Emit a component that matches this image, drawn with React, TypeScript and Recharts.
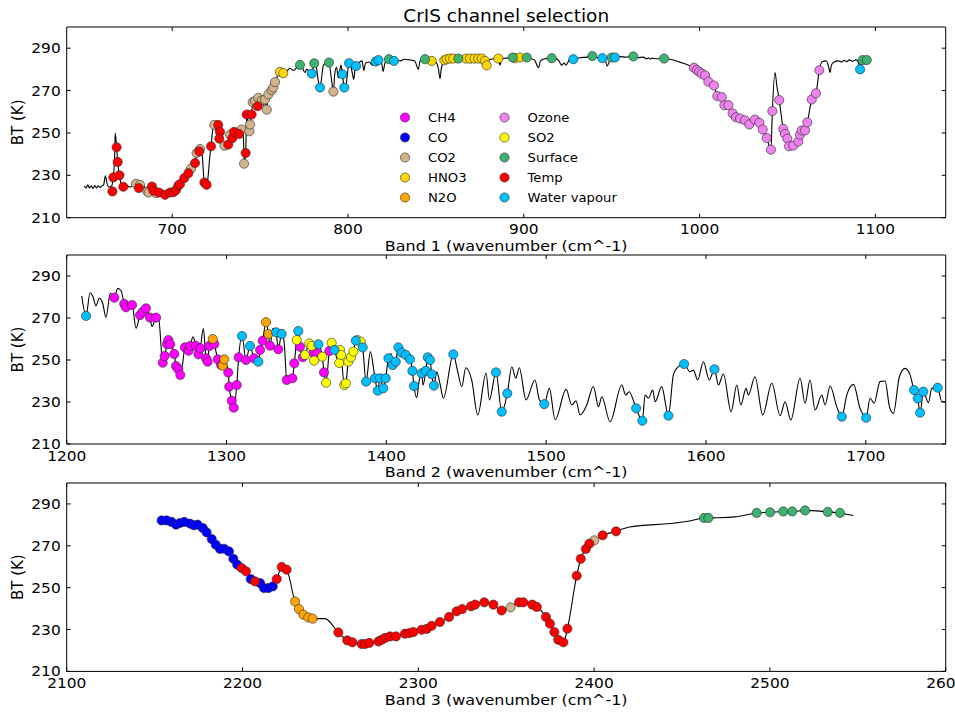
import React from 'react';
import { ComposedChart, Line, Scatter, XAxis, YAxis, ReferenceArea } from 'recharts';

type P = [number, number];

const FONT = "'DejaVu Sans', 'Liberation Sans', sans-serif";

const categories = ['CH4', 'CO', 'CO2', 'HNO3', 'N2O', 'Ozone', 'SO2', 'Surface', 'Temp', 'Water vapour'];
const categoryColors = ['#ff00ff', '#0000ff', '#d2b48c', '#ffd700', '#ffa500', '#ee82ee', '#ffff00', '#3cb371', '#ff0000', '#00bfff'];

const btTicks = [210, 230, 250, 270, 290];
const btDomain: P = [210, 300];
const band1Ticks = [700, 800, 900, 1000, 1100];
const band2Ticks = [1200, 1300, 1400, 1500, 1600, 1700];
const band3Ticks = [2100, 2200, 2300, 2400, 2500, 2600];

// ---------------- Band 1 ----------------
const band1Spectrum: P[] = [
  [650, 225], [651, 224], [652, 225.5], [653, 224], [654, 225], [655, 223.8], [656, 225.2], [657, 224], [658, 225], [659, 224.2],
  [660, 225], [661, 225.5], [662, 229.8], [663, 226], [664, 224.5], [665.5, 225], [666.5, 229], [667.3, 240], [667.6, 250], [668.4, 243.2],
  [669, 236.3], [670, 230], [671, 226], [672.2, 224.6], [674, 225], [676, 224.5], [678, 225.3], [680, 224.5], [681.7, 225.5], [683, 224],
  [684, 224.8], [685.9, 222.4], [687, 224], [688.5, 224.7], [690, 222.5], [692, 222], [694, 221.2], [696, 220.8], [698, 221.5], [700, 222],
  [702, 223], [703.5, 225], [705, 226.5], [707, 228.7], [709, 231], [711, 233.1], [713, 235.8], [714, 240.5], [716, 242.4], [717, 240],
  [718.3, 226.6], [719.6, 225.5], [720.5, 230], [721.3, 238], [722.1, 243.7], [723, 251], [724, 253.8], [725, 251], [726.2, 253.8], [727, 249],
  [728, 246], [729.7, 244], [731, 243.5], [732, 244.5], [733, 249.2], [734.2, 247.5], [735.2, 250.5], [736.7, 250], [738, 249.5], [739.5, 251.6],
  [740.5, 248], [741, 236], [741.8, 240.5], [742.4, 258.7], [743.9, 250.8], [744.3, 254], [745.2, 258.7], [745.8, 264.5], [747.1, 265], [748.6, 262.6],
  [749, 266.6], [750.9, 265.3], [752, 263], [752.8, 265.8], [753.8, 261], [754.7, 268.2], [756.6, 270.2], [757.5, 271.4], [758.5, 274], [760, 277],
  [761.3, 278.8], [763.2, 278.2], [765, 279], [767, 280.5], [769, 279.5], [771, 281], [772.7, 282.1], [774, 281], [775.5, 278.5], [776.5, 280],
  [778, 279], [779.4, 278], [780.8, 282.9], [782, 281], [783, 275], [784.1, 271.4], [785, 276], [786, 282], [788, 283], [789.2, 283.2],
  [790.5, 276], [791.7, 269.5], [792.5, 278], [793.5, 281], [794.5, 276], [796, 282], [796.8, 277.7], [797.9, 271.4], [798.5, 270], [799.3, 275],
  [800.6, 282.9], [801.5, 282], [802.5, 278], [803.3, 275.3], [804, 280], [804.6, 281.6], [806, 283], [808, 284], [809, 279.5], [810, 283],
  [812, 283.5], [814, 282], [815.8, 283.7], [817.3, 284.4], [819, 283.5], [820, 279], [821, 283], [823.3, 284.8], [826.2, 284], [828, 284.3],
  [830, 284], [832, 284.8], [835, 284.5], [838, 284], [840, 280], [841, 284], [843.8, 284.8], [847.6, 284], [850, 283.5], [851.5, 280],
  [852.4, 275.6], [853, 280], [854.8, 284.3], [856.1, 284.8], [858, 285.1], [859.9, 285.1], [862.8, 285.1], [865, 284.8], [867.1, 285.1], [869.4, 285.1],
  [870, 283], [871, 285], [871.9, 285.1], [874.1, 285.1], [876.1, 285.1], [877.9, 284], [878.9, 281.9], [880, 284.5], [883, 285], [885.5, 285.1],
  [886.5, 282], [887.5, 285], [890, 285.3], [893.7, 285.6], [895, 285.3], [897.9, 285.6], [901.7, 285.6], [904, 285], [906, 284.5], [908.4, 280.8],
  [909.5, 284], [912, 285], [915.9, 285.3], [918, 285.2], [920, 284], [921.6, 281.9], [923, 283], [924, 282], [926, 284.5], [928.2, 284.8],
  [932, 285.5], [936, 285.8], [939, 286.3], [942, 285.5], [944.7, 285.3], [946.5, 284], [947.5, 281.6], [949, 284.5], [950, 285.6], [951.9, 285.6],
  [955, 286], [958, 285.8], [962.3, 286.1], [965, 285.5], [968, 285.8], [970, 285], [971, 285.5], [972, 284.8], [973, 285.3], [975, 285],
  [979.8, 285.1], [983, 284.8], [986, 284.2], [989, 283.3], [992, 282.5], [994, 281.8], [996.8, 280.8], [998.4, 279.7], [999.8, 278.9], [1001.2, 278],
  [1003.1, 277.2], [1005, 274.2], [1008.2, 272.4], [1010.1, 267.4], [1012.6, 266.9], [1014.1, 263.1], [1016.4, 263.1], [1018.8, 259.2], [1020.7, 257.4], [1023, 256.8],
  [1025.8, 256], [1028.3, 254], [1031.5, 256.3], [1034, 254.8], [1035.9, 251.6], [1038.2, 247.6], [1040.6, 242.1], [1041.4, 260.3], [1042.9, 278.5], [1044, 272],
  [1045.3, 265.5], [1047.6, 251.9], [1048.6, 249.5], [1049.9, 247.3], [1050.9, 243.7], [1053.3, 244], [1056.2, 246], [1057.1, 249.2], [1058.1, 251.2], [1060, 251.2],
  [1061.3, 255], [1063.8, 265.8], [1066.2, 268.7], [1068.1, 279.6], [1069.5, 283.5], [1072, 284], [1073.5, 281], [1074.2, 278.5], [1075, 282], [1076.5, 283.5],
  [1079, 284], [1081, 283.5], [1082, 284.3], [1084, 283.6], [1085, 284.5], [1087, 283.8], [1089, 284.5], [1090.3, 283.5], [1091.3, 280], [1092, 284],
  [1092.8, 284.4], [1095.1, 284.4],
];
const band1CO2: P[] = [
  [679.4, 226], [681.7, 225.5], [685.9, 222.4], [686.6, 221.9], [690.8, 221.6], [710.7, 233.1], [713.9, 240.5], [715.8, 242.4], [724, 253.8], [729.7, 244],
  [732.9, 249.2], [736.7, 250], [739.5, 251.6], [740.9, 235.5], [743.9, 250.8], [744.3, 254], [745.8, 264.5], [747.1, 265], [749, 266.6], [750.9, 265.3],
  [752.8, 265.8], [753.8, 261], [754.7, 268.2], [756.6, 270.2], [757.5, 271.4], [758.5, 274], [791.7, 269.5],
];
const band1HNO3: P[] = [
  [761.3, 278.8], [763.2, 278.2], [847.6, 284], [854.8, 284.3], [856.1, 284.8], [858, 285.1], [859.9, 285.1], [867.1, 285.1], [869.4, 285.1], [871.9, 285.1],
  [874.1, 285.1], [876.1, 285.1], [877.9, 284], [878.9, 281.9], [885.5, 285.1], [895, 285.3], [897.9, 285.6],
];
const band1Ozone: P[] = [
  [996.8, 280.8], [998.4, 279.7], [999.8, 278.9], [1001.2, 278], [1003.1, 277.2], [1005, 274.2], [1008.2, 272.4], [1010.1, 267.4], [1012.6, 266.9], [1014.1, 263.1],
  [1016.4, 263.1], [1018.8, 259.2], [1020.7, 257.4], [1023, 256.8], [1025.8, 256], [1028.3, 254], [1031.5, 256.3], [1034, 254.8], [1035.9, 251.6], [1038.2, 247.6],
  [1040.6, 242.1], [1041.4, 260.3], [1045.3, 265.5], [1047.6, 251.9], [1048.6, 249.5], [1049.9, 247.3], [1050.9, 243.7], [1053.3, 244], [1056.2, 246], [1057.1, 249.2],
  [1058.1, 251.2], [1060, 251.2], [1061.3, 255], [1063.8, 265.8], [1066.2, 268.7], [1068.1, 279.6],
];
const band1Surface: P[] = [
  [772.7, 282.1], [780.8, 282.9], [789.2, 283.2], [823.3, 284.8], [843.8, 284.8], [862.8, 285.1], [893.7, 285.6], [901.7, 285.6], [915.9, 285.3], [939, 286.3],
  [950, 285.6], [962.3, 286.1], [979.8, 285.1], [1092.8, 284.4], [1095.1, 284.4],
];
const band1Temp: P[] = [
  [666, 222.4], [666.5, 229], [668.4, 243.2], [669, 236.3], [670, 230], [672.2, 224.6], [681, 224], [688.5, 224.7], [689.3, 222.8], [692.5, 221.9],
  [695.9, 220.8], [698.8, 221.9], [700.6, 222], [702.2, 223.1], [703.5, 225.2], [704.4, 225.8], [706.9, 228.7], [709.2, 231], [713, 235.8], [715.4, 241.3],
  [718.3, 226.6], [719.6, 225.5], [722.1, 243.7], [726.2, 253.8], [727.2, 250.5], [726.8, 247.3], [731.9, 244.5], [734.2, 247.5], [735.2, 250.5], [738, 249.5],
  [741.8, 240.5], [742.4, 258.7], [745.2, 258.7], [748.6, 262.6],
];
const band1Water: P[] = [
  [779.4, 278], [784.1, 271.4], [796.8, 277.7], [797.9, 271.4], [800.6, 282.9], [804.6, 281.6], [815.8, 283.7], [817.3, 284.4], [826.2, 284], [928.2, 284.8],
  [944.7, 285.3], [951.9, 285.6], [1091.3, 280],
];

// ---------------- Band 2 ----------------
const band2Spectrum: P[] = [
  [1209.4, 280.5], [1212.1, 271], [1214.6, 282], [1216.5, 280], [1218.3, 275.7], [1220.4, 279.4], [1222.5, 277], [1224.6, 270.3], [1227.3, 281.8], [1229.8, 279.7],
  [1231.9, 284.1], [1234, 283], [1236, 276.7], [1237.1, 275.1], [1240.9, 276.2], [1243.4, 265.1], [1245.9, 271.4], [1247.6, 273], [1249.6, 274.6], [1252.1, 270.2],
  [1253.4, 265.9], [1255.9, 270.2], [1257.5, 270], [1260.1, 248.7], [1261.3, 251.9], [1262.8, 257.6], [1263.6, 259.5], [1264.8, 257.5], [1267.3, 252.9], [1268.4, 247.1],
  [1269.8, 245.6], [1271.1, 242.9], [1272.5, 248], [1274, 256], [1276.3, 254.4], [1277.3, 256.7], [1279, 261], [1280.9, 256.7], [1282.4, 252.7], [1283.6, 255.6],
  [1285.5, 265], [1287.2, 250.8], [1288.2, 249.2], [1289.2, 256.7], [1291.4, 260], [1292.4, 257.6], [1294.5, 250.3], [1296.6, 247.6], [1297.6, 247.3], [1298.6, 250.3],
  [1301.1, 244], [1301.7, 237.3], [1303.3, 230.6], [1304.5, 227.3], [1306.4, 238.1], [1307.6, 251.3], [1309.7, 261.4], [1312.2, 250], [1314.7, 256.7], [1317.2, 250.8],
  [1319.9, 249.2], [1321, 254.8], [1322.6, 259.2], [1324.7, 268], [1326.2, 262.4], [1327.2, 256.8], [1329, 265], [1331, 263.2], [1332.4, 255.1], [1334.5, 262.4],
  [1336, 259], [1337.7, 240.5], [1341.2, 241.3], [1342.4, 248.4], [1343.9, 259.5], [1344.9, 263.8], [1346, 256.3], [1347.7, 251.3], [1349.1, 252.4], [1351.8, 257.9],
  [1353.3, 256.7], [1354.3, 253.5], [1354.8, 249.7], [1356.4, 253.2], [1357.5, 257.5], [1359.9, 251.6], [1361, 244.1], [1362.3, 239.2], [1364.3, 254.3], [1365.8, 258.2],
  [1367.5, 254.8], [1369, 251], [1370.5, 248.6], [1371, 254.8], [1371.7, 252.4], [1373.7, 238.1], [1374.7, 238.9], [1376.2, 249.2], [1377.9, 251.3], [1379.4, 254],
  [1380.9, 259.2], [1381.9, 259.5], [1384, 258.7], [1385.2, 256], [1387.3, 239.7], [1390, 254], [1392.9, 241.3], [1394.6, 235.4], [1396.1, 241.3], [1398.1, 236.5],
  [1399.6, 241.3], [1401.3, 250.8], [1403, 253], [1404, 247.6], [1405.9, 249.2], [1407.5, 256], [1409.6, 253.5], [1412.2, 252.4], [1414.8, 250.3], [1416.3, 244.8],
  [1417.3, 237.6], [1419, 232], [1420.5, 240], [1422.1, 243.7], [1423, 238], [1424.7, 244.9], [1425.9, 251.3], [1427.3, 250], [1428.4, 243.2], [1429.8, 237.8],
  [1431.5, 244.4], [1433.5, 239], [1435.7, 231.8], [1441.9, 252.7], [1444.5, 245], [1447.2, 237.3], [1449.7, 246.3], [1453.4, 240.5], [1457.2, 223.8], [1462.4, 243.7],
  [1464.5, 231], [1468.6, 244.1], [1472.2, 225.4], [1475.7, 234.1], [1478.5, 246.8], [1481, 241.3], [1483.2, 246.3], [1487.4, 231], [1493, 240.5], [1495.8, 231],
  [1498.8, 229], [1502, 236.5], [1505.6, 221.6], [1512.5, 236], [1516, 228.6], [1518.7, 230.6], [1521.2, 223.8], [1525.4, 228.6], [1529.5, 237.4], [1532.8, 227.8],
  [1534.8, 232.5], [1540, 220.6], [1547.3, 238.1], [1549.8, 233.3], [1551.9, 234.9], [1556.3, 227], [1560.2, 221.1], [1561.9, 233.3], [1564, 231.8], [1566.7, 235.7],
  [1568.2, 230.1], [1572.3, 237.3], [1576.5, 223.5], [1579.6, 242.9], [1581.7, 246], [1586.3, 248.1], [1590, 244.4], [1592.1, 245.2], [1594.8, 240.5], [1598.4, 249.2],
  [1602.1, 240.5], [1605.3, 245.6], [1607.8, 238.1], [1610.9, 243.3], [1615.7, 225.4], [1619.3, 238.1], [1621.8, 228.6], [1625.1, 236.5], [1626.5, 233.3], [1630.7, 242],
  [1635.5, 223.8], [1641.2, 238.9], [1646.4, 223.5], [1649.5, 230.1], [1653.1, 221.4], [1658.9, 241.3], [1662, 229.4], [1665.1, 240.5], [1668.3, 226.2], [1672.5, 233.3],
  [1674.5, 228.6], [1677.7, 237.6], [1681.8, 227.8], [1685, 223], [1688.1, 233.3], [1692.3, 238.4], [1696.4, 227], [1700.2, 222.5], [1702.7, 231.8], [1705.2, 229.4],
  [1708.9, 239.7], [1712.1, 240], [1714.8, 227.8], [1717.3, 224.6], [1721, 242], [1724.6, 246], [1727.7, 242.9], [1730.2, 235.7], [1732.5, 231.7], [1734, 224.9],
  [1736, 234.9], [1739.2, 229.7], [1741.3, 236.5], [1745, 236.8], [1747.6, 230.1], [1750, 230.1],
];
const band2CH4: P[] = [
  [1229.8, 279.7], [1236, 276.7], [1237.1, 275.1], [1240.9, 276.2], [1245.9, 271.4], [1247.6, 273], [1249.6, 274.6], [1252.1, 270.2], [1255.9, 270.2], [1260.1, 248.7],
  [1261.3, 251.9], [1262.8, 257.6], [1263.6, 259.5], [1264.8, 257.5], [1267.3, 252.9], [1268.4, 247.1], [1269.8, 245.6], [1271.1, 242.9], [1274, 256], [1276.3, 254.4],
  [1277.3, 256.7], [1280.9, 256.7], [1282.4, 252.7], [1283.6, 255.6], [1287.2, 250.8], [1288.2, 249.2], [1289.2, 256.7], [1292.4, 257.6], [1294.5, 250.3], [1296.6, 247.6],
  [1301.1, 244], [1301.7, 237.3], [1303.3, 230.6], [1304.5, 227.3], [1306.4, 238.1], [1307.6, 251.3], [1312.2, 250], [1317.2, 250.8], [1321, 254.8], [1322.6, 259.2],
  [1327.2, 256.8], [1332.4, 255.1], [1337.7, 240.5], [1341.2, 241.3], [1342.4, 248.4], [1346, 256.3], [1347.7, 251.3], [1354.3, 253.5], [1356.4, 253.2], [1361, 244.1],
  [1364.3, 254.3],
];
const band2N2O: P[] = [[1291.4, 260], [1297.6, 247.3], [1298.6, 250.3], [1324.7, 268], [1326.2, 262.4]];
const band2SO2: P[] = [
  [1343.9, 259.5], [1349.1, 252.4], [1351.8, 257.9], [1353.3, 256.7], [1354.8, 249.7], [1359.9, 251.6], [1362.3, 239.2], [1365.8, 258.2], [1370.5, 248.6], [1371, 254.8],
  [1371.7, 252.4], [1373.7, 238.1], [1374.7, 238.9], [1376.2, 249.2], [1377.9, 251.3], [1379.4, 254], [1381.9, 259.5], [1384, 258.7],
];
const band2Water: P[] = [
  [1212.1, 271], [1309.7, 261.4], [1314.7, 256.7], [1319.9, 249.2], [1331, 263.2], [1334.5, 262.4], [1344.9, 263.8], [1357.5, 257.5], [1367.5, 254.8], [1380.9, 259.2],
  [1385.2, 256], [1387.3, 239.7], [1392.9, 241.3], [1394.6, 235.4], [1396.1, 241.3], [1398.1, 236.5], [1399.6, 241.3], [1401.3, 250.8], [1404, 247.6], [1405.9, 249.2],
  [1407.5, 256], [1409.6, 253.5], [1412.2, 252.4], [1414.8, 250.3], [1416.3, 244.8], [1417.3, 237.6], [1422.1, 243.7], [1424.7, 244.9], [1425.9, 251.3], [1427.3, 250],
  [1428.4, 243.2], [1429.8, 237.8], [1441.9, 252.7], [1468.6, 244.1], [1472.2, 225.4], [1475.7, 234.1], [1498.8, 229], [1556.3, 227], [1560.2, 221.1], [1576.5, 223.5],
  [1586.3, 248.1], [1605.3, 245.6], [1685, 223], [1700.2, 222.5], [1730.2, 235.7], [1732.5, 231.7], [1734, 224.9], [1736, 234.9], [1745, 236.8],
];

// ---------------- Band 3 ----------------
const band3Spectrum: P[] = [
  [2154, 282.1], [2156.9, 282.1], [2159.7, 281.4], [2162.2, 280.1], [2164.4, 280.9], [2166.9, 281.4], [2170.1, 280.6], [2172.4, 279.8], [2174.5, 280.1], [2177.4, 278.5],
  [2179.6, 276.4], [2182.5, 273.2], [2184.8, 270.5], [2187.2, 268.5], [2189.5, 268.6], [2192.3, 267.3], [2194.8, 263.8], [2197, 261], [2199.5, 259.4], [2202, 257.8],
  [2204.7, 254.1], [2207.1, 253], [2210, 252.2], [2212.2, 249.8], [2214.7, 249.8], [2217.2, 250.6], [2219.5, 254.1], [2222.3, 259.9], [2225.1, 258.6], [2229.9, 243.4],
  [2232.1, 239.8], [2234.6, 237.1], [2237.4, 235.8], [2239.9, 235.2], [2246.9, 235.2], [2254.5, 228.6], [2259.6, 224.8], [2262.5, 223.9], [2267.8, 223.1], [2272.1, 223.6],
  [2277.3, 224.3], [2281.1, 226], [2287.3, 226.7], [2292.4, 228], [2297.2, 228.8], [2301.9, 229.9], [2307.6, 231.8], [2312.3, 233.6], [2317.5, 236], [2321.8, 238.7],
  [2325, 239.8], [2330, 241.1], [2337.5, 243], [2342.7, 241.9], [2347.4, 239.1], [2352.5, 240.6], [2357.3, 243], [2359.7, 243], [2364.8, 241.9], [2367.4, 240.8],
  [2372.6, 236], [2374.9, 232.8], [2377.4, 228.8], [2379.6, 225.1], [2382.5, 223.9], [2384.8, 230.4], [2390.1, 255.7], [2392.4, 263.8], [2395.3, 268.5], [2397.3, 271],
  [2400.1, 272.6], [2404.9, 275], [2412.5, 276.9], [2420, 279], [2446, 280.9], [2455, 282], [2462.5, 283.3], [2470, 283.4], [2480, 283.8], [2492.5, 285.7],
  [2500.1, 286], [2507.6, 286.4], [2512.7, 286.4], [2520, 286.9], [2532.9, 286.2], [2539.9, 285.7], [2547.4, 284.5],
];
const band3CO: P[] = [
  [2154, 282.1], [2156.9, 282.1], [2159.7, 281.4], [2162.2, 280.1], [2164.4, 280.9], [2166.9, 281.4], [2170.1, 280.6], [2172.4, 279.8], [2174.5, 280.1], [2177.4, 278.5],
  [2179.6, 276.4], [2182.5, 273.2], [2184.8, 270.5], [2187.2, 268.5], [2189.5, 268.6], [2192.3, 267.3], [2194.8, 263.8], [2197, 261], [2204.7, 254.1], [2210, 252.2],
  [2212.2, 249.8], [2214.7, 249.8], [2217.2, 250.6],
];
const band3CO2: P[] = [[2352.5, 240.6], [2400.1, 272.6]];
const band3N2O: P[] = [[2229.9, 243.4], [2232.1, 239.8], [2234.6, 237.1], [2237.4, 235.8], [2239.9, 235.2]];
const band3Surface: P[] = [
  [2462.5, 283.3], [2465, 283.3], [2492.5, 285.7], [2500.1, 286], [2507.6, 286.4], [2512.7, 286.4], [2520, 286.9], [2532.9, 286.2], [2539.9, 285.7],
];
const band3Temp: P[] = [
  [2199.5, 259.4], [2202, 257.8], [2207.1, 253], [2219.5, 254.1], [2222.3, 259.9], [2225.1, 258.6], [2254.5, 228.6], [2259.6, 224.8], [2262.5, 223.9], [2267.8, 223.1],
  [2269.7, 223.1], [2272.1, 223.6], [2277.3, 224.3], [2279.2, 225.1], [2281.1, 226], [2283.9, 226.7], [2287.3, 226.7], [2292.4, 228], [2294.9, 228.3], [2297.2, 228.8],
  [2301.9, 229.9], [2304.8, 230.3], [2307.6, 231.8], [2312.3, 233.6], [2317.5, 236], [2321.8, 238.7], [2325, 239.8], [2330, 241.1], [2332.3, 241.9], [2337.5, 243],
  [2342.7, 241.9], [2347.4, 239.1], [2357.3, 243], [2359.7, 243], [2364.8, 241.9], [2367.4, 240.8], [2372.6, 236], [2374.9, 232.8], [2377.4, 228.8], [2379.6, 225.1],
  [2382.5, 223.9], [2384.8, 230.4], [2390.1, 255.7], [2392.4, 263.8], [2395.3, 268.5], [2397.3, 271], [2404.9, 275], [2412.5, 276.9],
];

// ---------------- layout ----------------
const PLOT_LEFT = 66.7;
const PLOT_RIGHT = 945.7;
const CHART_W = 955;
const X_AXIS_H = 30;

const toXY = (arr: P[]) => arr.map(([x, y]) => ({ x, y }));

type Panel = {
  label: string;
  domain: P;
  ticks: number[];
  spectrum: P[];
  groups: Record<string, P[]>;
  top: number;
  height: number;
  plotTop: number;
  plotBottom: number;
};

const panels: Panel[] = [
  {
    label: 'Band 1 (wavenumber (cm^-1)',
    domain: [640, 1140],
    ticks: band1Ticks,
    spectrum: band1Spectrum,
    groups: { CO2: band1CO2, HNO3: band1HNO3, Ozone: band1Ozone, Surface: band1Surface, Temp: band1Temp, 'Water vapour': band1Water },
    top: 0, height: 258, plotTop: 27, plotBottom: 217.7,
  },
  {
    label: 'Band 2 (wavenumber (cm^-1)',
    domain: [1200, 1750],
    ticks: band2Ticks,
    spectrum: band2Spectrum,
    groups: { CH4: band2CH4, N2O: band2N2O, SO2: band2SO2, 'Water vapour': band2Water },
    top: 228, height: 258, plotTop: 27, plotBottom: 216,
  },
  {
    label: 'Band 3 (wavenumber (cm^-1)',
    domain: [2100, 2600],
    ticks: band3Ticks,
    spectrum: band3Spectrum,
    groups: { CO: band3CO, CO2: band3CO2, N2O: band3N2O, Surface: band3Surface, Temp: band3Temp },
    top: 456.3, height: 255, plotTop: 27, plotBottom: 215.4,
  },
];

const Dot = (color: string) => (props: any) => (
  <circle cx={props.cx} cy={props.cy} r={4.6} fill={color} stroke="#2a2a2a" strokeWidth={0.6} />
);

function PanelChart({ p }: { p: Panel }) {
  const XTick = (props: any) => {
    const { x, payload } = props;
    return (
      <g>
        <line x1={x} x2={x} y1={p.plotBottom} y2={p.plotBottom - 4} stroke="#000" strokeWidth={1} />
        <line x1={x} x2={x} y1={p.plotTop} y2={p.plotTop + 4} stroke="#000" strokeWidth={1} />
        <text
          transform={`translate(${x},${p.plotBottom + 16.5}) scale(1.1,1)`}
          textAnchor="middle"
          fontSize={14}
          fontFamily={FONT}
          fill="#000"
        >
          {payload.value}
        </text>
      </g>
    );
  };
  const YTick = (props: any) => {
    const { y, payload } = props;
    return (
      <g>
        <line x1={PLOT_LEFT} x2={PLOT_LEFT + 4} y1={y} y2={y} stroke="#000" strokeWidth={1} />
        <line x1={PLOT_RIGHT - 4} x2={PLOT_RIGHT} y1={y} y2={y} stroke="#000" strokeWidth={1} />
        <text
          transform={`translate(${PLOT_LEFT - 6},${y + 5}) scale(1.1,1)`}
          textAnchor="end"
          fontSize={14}
          fontFamily={FONT}
          fill="#000"
        >
          {payload.value}
        </text>
      </g>
    );
  };
  const XLabel = (props: any) => {
    const vb = props.viewBox || {};
    return (
      <text
        transform={`translate(${vb.x + vb.width / 2},${p.plotBottom + 33.3}) scale(1.1,1)`}
        textAnchor="middle"
        fontSize={14.5}
        fontFamily={FONT}
        fill="#000"
      >
        {p.label}
      </text>
    );
  };
  const YLabel = () => {
    const cy = (p.plotTop + p.plotBottom) / 2;
    return (
      <text transform={`translate(23,${cy}) rotate(-90)`} textAnchor="middle" fontSize={15} fontFamily={FONT} fill="#000">
        BT (K)
      </text>
    );
  };

  return (
    <div style={{ position: 'absolute', left: 0, top: p.top, width: CHART_W, height: p.height }}>
      <ComposedChart
        width={CHART_W}
        height={p.height}
        margin={{ top: p.plotTop, right: CHART_W - PLOT_RIGHT, left: 0, bottom: p.height - p.plotBottom - X_AXIS_H }}
      >
        <XAxis
          type="number"
          dataKey="x"
          domain={p.domain}
          ticks={p.ticks}
          interval={0}
          allowDataOverflow
          axisLine={false}
          tickLine={false}
          height={X_AXIS_H}
          tick={XTick}
          label={<XLabel />}
        />
        <YAxis
          type="number"
          dataKey="y"
          domain={btDomain}
          ticks={btTicks}
          interval={0}
          allowDataOverflow
          axisLine={false}
          tickLine={false}
          width={PLOT_LEFT}
          tick={YTick}
          label={<YLabel />}
        />
        <ReferenceArea
          x1={p.domain[0]}
          x2={p.domain[1]}
          y1={btDomain[0]}
          y2={btDomain[1]}
          fill="none"
          fillOpacity={0}
          stroke="#000"
          strokeWidth={1}
          strokeOpacity={1}
        />
        <Line
          data={toXY(p.spectrum)}
          dataKey="y"
          type="monotone"
          stroke="#000"
          strokeWidth={1.1}
          dot={false}
          activeDot={false}
          isAnimationActive={false}
        />
        {categories.map((c, i) =>
          p.groups[c] ? (
            <Scatter
              key={c}
              name={c}
              data={toXY(p.groups[c])}
              dataKey="y"
              fill={categoryColors[i]}
              shape={Dot(categoryColors[i])}
              isAnimationActive={false}
            />
          ) : null
        )}
      </ComposedChart>
    </div>
  );
}

function Overlay() {
  const rows = 5;
  return (
    <svg
      width={CHART_W}
      height={712}
      style={{ position: 'absolute', left: 0, top: 0, pointerEvents: 'none' }}
    >
      <text x={(PLOT_LEFT + PLOT_RIGHT) / 2} y={22} textAnchor="middle" fontSize={18.5} fontFamily={FONT} fill="#000">
        CrIS channel selection
      </text>
      {categories.map((c, i) => {
        const col = Math.floor(i / rows);
        const row = i % rows;
        const mx = col === 0 ? 405 : 504.5;
        const cy = 117.5 + row * 20;
        return (
          <g key={c}>
            <circle cx={mx} cy={cy} r={4.6} fill={categoryColors[i]} stroke="#2a2a2a" strokeWidth={0.6} />
            <text transform={`translate(${mx + 23},${cy + 4.5}) scale(1.1,1)`} fontSize={12} fontFamily={FONT} fill="#000">
              {c}
            </text>
          </g>
        );
      })}
    </svg>
  );
}

export default function App() {
  return (
    <div style={{ position: 'absolute', left: 0, top: 0, width: CHART_W, height: 712, overflow: 'hidden', background: '#fff' }}>
      {panels.map((p, i) => (
        <PanelChart key={i} p={p} />
      ))}
      <Overlay />
    </div>
  );
}
